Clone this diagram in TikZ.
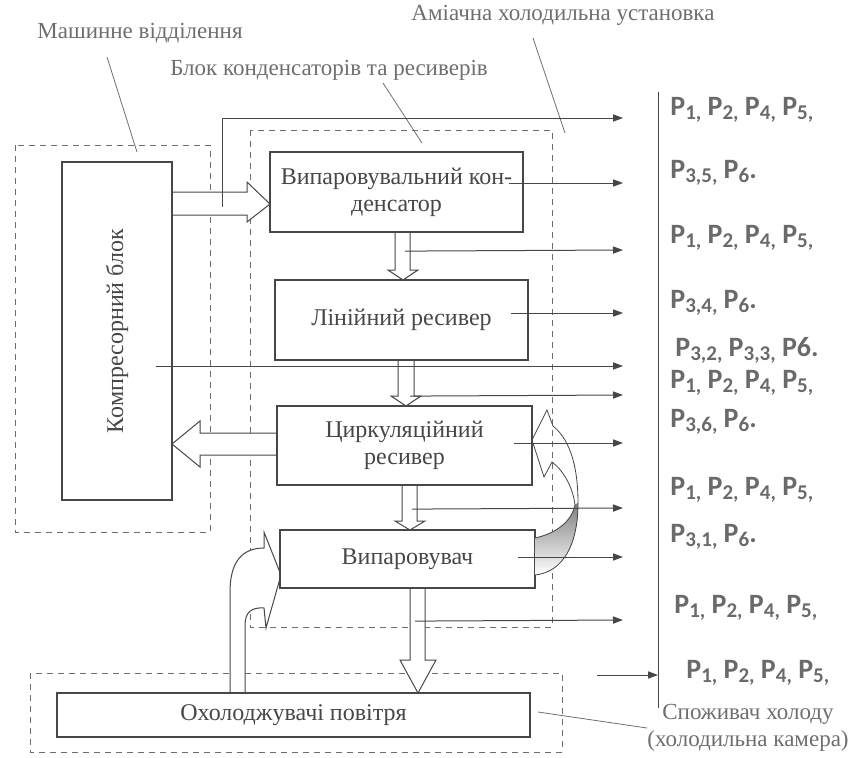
\documentclass[tikz,border=0pt]{standalone}
\usepackage{fontspec}
\setmainfont{Liberation Serif}
\newfontfamily\pfont{Carlito}
\usetikzlibrary{arrows.meta}

\definecolor{ink}{HTML}{474747}
\definecolor{paleink}{HTML}{6E6E6E}
\definecolor{pgray}{HTML}{6A6A6A}
\definecolor{shade}{HTML}{B5B5B5}

\newcommand\psub[1]{\raisebox{-0.3ex}{\fontsize{10.5}{11}\selectfont #1}}
\newcommand\prow{P\psub{1,} P\psub{2,} P\psub{4,} P\psub{5,}}

\tikzset{
	unit/.style={draw=ink,line width=1.1pt,fill=white,text=ink,align=center,
		font=\fontsize{12}{13.5}\selectfont,inner sep=0pt},
	zone/.style={draw=paleink,line width=0.5pt,dash pattern=on 3pt off 2.5pt},
	hollow/.style={draw=ink,line width=0.5pt,fill=white},
	flow/.style={draw=ink,line width=0.5pt,-{Triangle[length=5pt,width=3.6pt]}},
	lead/.style={draw=paleink,line width=0.4pt},
	note/.style={text=paleink,inner sep=0pt,font=\fontsize{11.5}{13.5}\selectfont},
	plab/.style={anchor=west,text=pgray,inner sep=0pt,
		font=\pfont\bfseries\fontsize{14}{16}\selectfont}
}

\begin{document}
\begin{tikzpicture}[x=0.5pt,y=-0.5pt]
	\useasboundingbox (0,0) rectangle (859,757);
	% dashed zones
	\draw[zone] (15,145) rectangle (210,532);
	\draw[zone] (250,130) rectangle (552,627);
	\draw[zone] (30,673) rectangle (562,752);
	% zone names
	\node[note] (mach) at (140,33) {Машинне відділення};
	\node[note] (blok) at (329,70) {Блок конденсаторів та ресиверів};
	\node[note] (ammo) at (563,15) {Аміачна холодильна установка};
	\node[note,align=center] (cons) at (748,728) {Споживач холоду\\(холодильна камера)};
	\draw[lead] (107,57) -- (137,152);
	\draw[lead] (383,83) -- (422,143);
	\draw[lead] (533,38) -- (565,133);
	\draw[lead] (538,712) -- (cons.west);
	% hollow arrows
	\draw[hollow] (172,192) -- (247,192) -- (247,182) -- (270,204) -- (247,222) -- (247,215) -- (172,215);
	\draw[hollow] (277,433) -- (200,433) -- (200,421) -- (172,444) -- (200,467) -- (200,455) -- (277,455);
	\draw[hollow] (395,232) -- (395,270) -- (388,270) -- (403,280) -- (418,270) -- (410,270) -- (410,232);
	\draw[hollow] (398,360) -- (398,396) -- (391,396) -- (406,406) -- (421,396) -- (414,396) -- (414,360);
	\draw[hollow] (402,485) -- (402,521) -- (395,521) -- (410,530) -- (425,521) -- (417,521) -- (417,485);
	\draw[hollow] (410,588) -- (410,660) -- (400,660) -- (418,693) -- (436,660) -- (425,660) -- (425,588);
	\draw[hollow] (230,693) -- (230,592) .. controls (230,562) and (242,548) .. (264,548)
		-- (264,532) -- (281,575) -- (266,628) -- (264,608)
		.. controls (252,607) and (245,612) .. (245,625) -- (245,693);
	% units
	\node[unit,minimum width=55pt,minimum height=169pt,
		label={[rotate=90,text=ink,font=\fontsize{12}{13.5}\selectfont]center:Компресорний блок}]
		(comp) at (117,331) {};
	\node[unit,minimum width=126.5pt,minimum height=40pt] (cond) at (396.5,192)
		{Випаровувальний кон-\\денсатор};
	\node[unit,minimum width=126.5pt,minimum height=40pt] (lin) at (401.5,320)
		{Лінійний ресивер};
	\node[unit,minimum width=127.5pt,minimum height=39.5pt] (circ) at (404.5,445.5)
		{Циркуляційний\\ресивер};
	\node[unit,minimum width=127.5pt,minimum height=29pt] (evap) at (407.5,559)
		{Випаровувач};
	\node[unit,minimum width=236.5pt,minimum height=22pt] (air) at (293.5,715)
		{Охолоджувачі повітря};
	% twisted return arrow
	\fill[shade] (535,575) .. controls (563,572) and (578,545) .. (578,503)
		-- (575,505) .. controls (572,520) and (558,533) .. (535,538) -- cycle;
	\draw[lead,draw=ink] (535,575) .. controls (563,572) and (578,545) .. (578,503)
		.. controls (578,462) and (568,438) .. (553,426) -- (547,410) -- (532,440)
		-- (544,477) -- (552,462) .. controls (563,470) and (573,487) .. (575,505)
		.. controls (572,520) and (558,533) .. (535,538);
	% parameter list
	\draw[lead,draw=ink] (658,92) -- (658,708);
	\foreach \ya/\yt/\xt/\t [count=\i] in {
		118/110/670/{\prow},
		183/173/670/{P\psub{3,5,} P\psub{6}.},
		250/238/670/{\prow},
		313/303/670/{P\psub{3,4,} P\psub{6}.},
		366/350/675/{P\psub{3,2,} P\psub{3,3,} P6.},
		395/383/670/{\prow},
		443/422/670/{P\psub{3,6,} P\psub{6}.},
		508/490/670/{\prow},
		557/537/670/{P\psub{3,1,} P\psub{6}.},
		620/608/674/{\prow},
		675/673/686/{\prow}}{
		\coordinate (r\i) at (623,\ya);
		\node[plab] (p\i) at (\xt,\yt) {\t};
	}
	\coordinate (r11) at (658,675);
	\coordinate (s11) at (597,675);
	\draw[flow] (222,207) |- (r1);
	\draw[flow] ([shift={(-15,-9)}]cond.east) -- (r2);
	\draw[flow] ([shift={(8.5,18)}]cond.south) -- (r3);
	\draw[flow] ([shift={(-18,-7)}]lin.east) -- (r4);
	\draw[flow] ([shift={(-17,35)}]comp.east) -- (r5);
	\draw[flow] ([shift={(8.5,35)}]lin.south) -- (r6);
	\draw[flow] ([shift={(-19,-2.5)}]circ.east) -- (r7);
	\draw[flow] ([shift={(7.5,23)}]circ.south) -- (r8);
	\draw[flow] ([shift={(-18,-2)}]evap.east) -- (r9);
	\draw[flow] ([shift={(7.5,32)}]evap.south) -- (r10);
	\draw[flow] (s11) -- (r11);
\end{tikzpicture}
\end{document}
